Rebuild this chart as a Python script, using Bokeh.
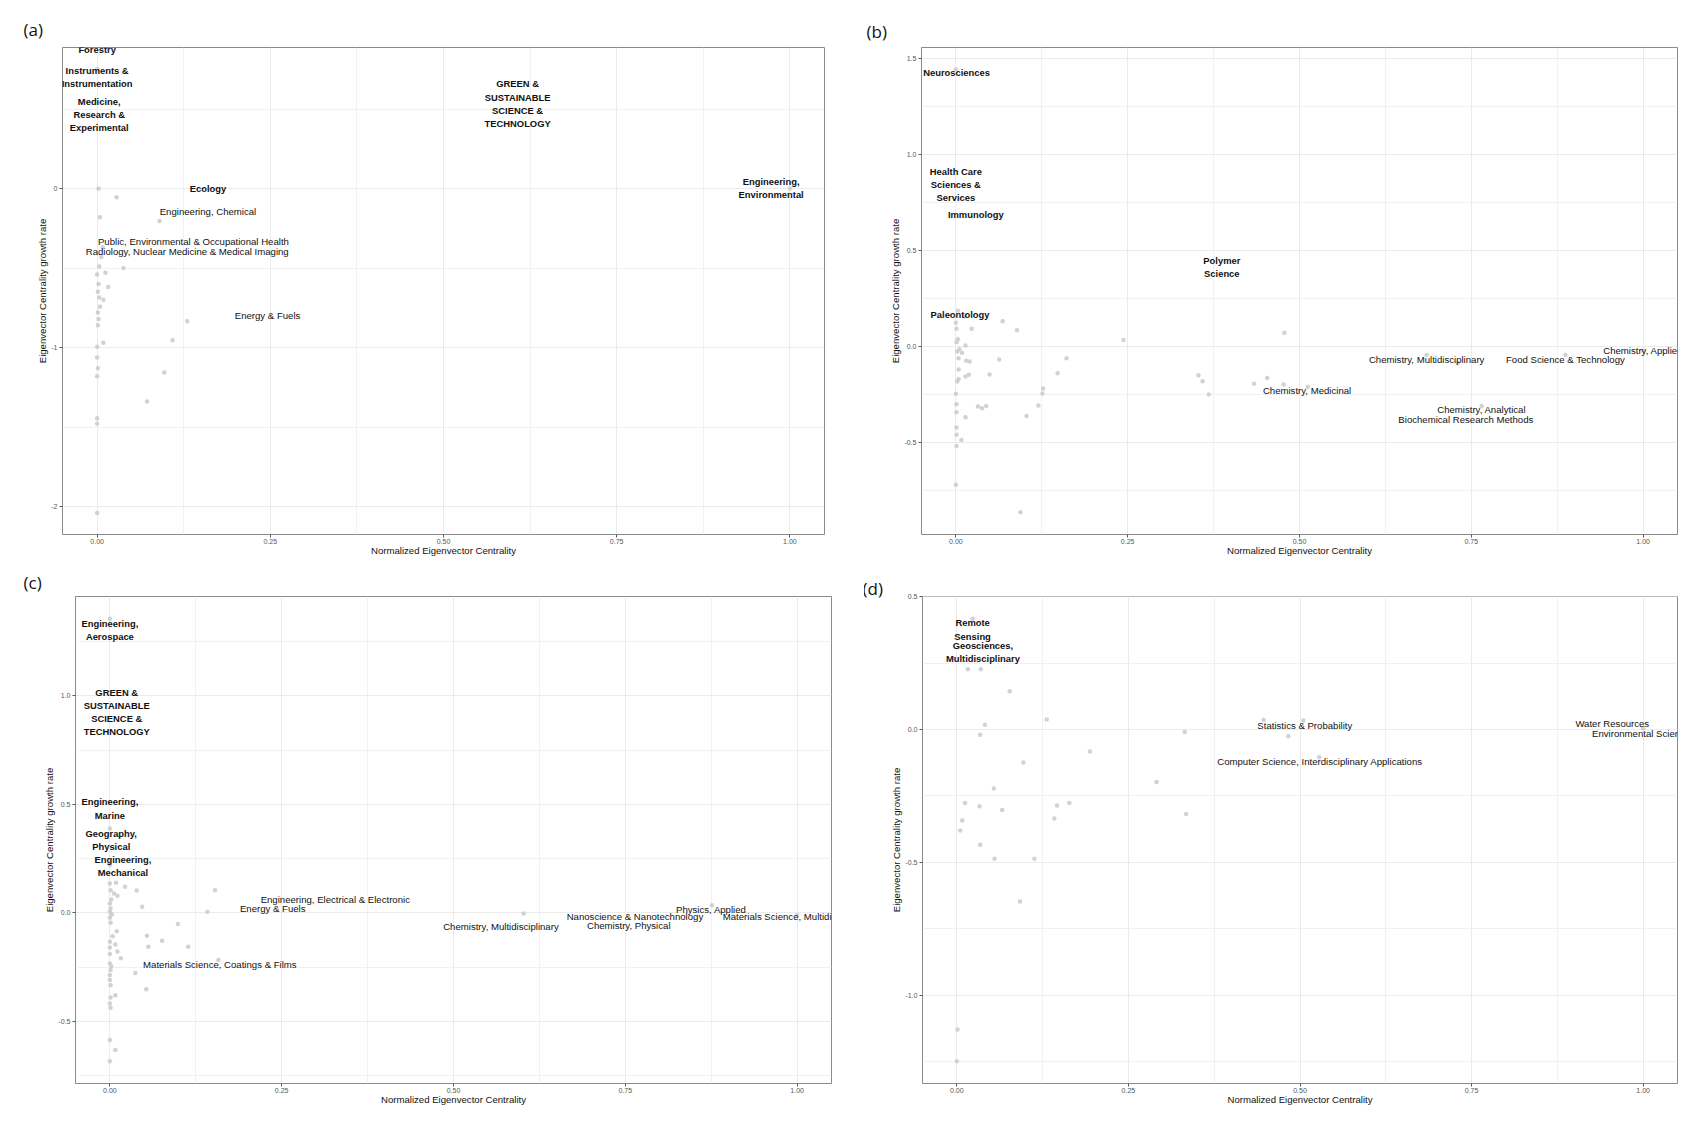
from bokeh.plotting import figure
from bokeh.layouts import column, row
from bokeh.models import Range1d, FixedTicker, PrintfTickFormatter, ColumnDataSource
from bokeh.embed import file_html
from bokeh.resources import INLINE
from bokeh.core.properties import value

FONT = "Liberation Sans"
X_TICKS = [0.0, 0.25, 0.5, 0.75, 1.0]
X_MINOR = [0.125, 0.375, 0.625, 0.875]
X_TITLE = "Normalized Eigenvector Centrality"
Y_TITLE = "Eigenvector Centrality growth rate"

# ---------------- panel (a) ----------------
a_x = [0.000, 0.002, 0.028, 0.004, 0.090, 0.008, 0.006, 0.003, 0.038, 0.012, 0.000, 0.016, 0.002,
       0.001, 0.003, 0.009, 0.004, 0.001, 0.002, 0.001, 0.130, 0.109, 0.009, 0.000, 0.000, 0.001,
       0.000, 0.097, 0.072, 0.000, 0.000, 0.000, 1.000]
a_y = [0.750, 0.000, -0.055, -0.180, -0.205, -0.370, -0.430, -0.490, -0.500, -0.530, -0.540, -0.620, -0.600,
       -0.650, -0.686, -0.700, -0.744, -0.780, -0.820, -0.860, -0.835, -0.954, -0.970, -0.995, -1.063, -1.130,
       -1.180, -1.157, -1.340, -1.445, -1.480, -2.040, 0.000]
a_lab = ["Forestry", "Instruments &\nInstrumentation", "Medicine,\nResearch &\nExperimental", "Ecology",
         "Engineering, Chemical", "Public, Environmental & Occupational Health",
         "Radiology, Nuclear Medicine & Medical Imaging", "Energy & Fuels",
         "GREEN &\nSUSTAINABLE\nSCIENCE &\nTECHNOLOGY", "Engineering,\nEnvironmental"]
a_lab_x = [0.000, 0.000, 0.003, 0.160, 0.160, 0.139, 0.130, 0.246, 0.607, 0.973]
a_lab_y = [0.875, 0.703, 0.465, 0.002, -0.142, -0.335, -0.396, -0.799, 0.533, 0.003]
a_bold = [1, 1, 1, 1, 0, 0, 0, 0, 1, 1]
a_yticks = [-2.0, -1.0, 0.0]
a_yminor = [-1.5, -0.5, 0.5]

# ---------------- panel (b) ----------------
b_x = [0.003, 0.013, 0.000, 0.001, 0.023, 0.068, 0.089, 0.003, 0.001, 0.014, 0.005, 0.002, 0.009, 0.004,
       0.015, 0.020, 0.063, 0.161, 0.244, 0.004, 0.148, 0.049, 0.014, 0.019, 0.004, 0.002, 0.127, 0.126,
       0.000, 0.001, 0.032, 0.038, 0.044, 0.120, 0.001, 0.014, 0.103, 0.001, 0.001, 0.008, 0.001, 0.000,
       0.094, 0.353, 0.359, 0.368, 0.434, 0.453, 0.477, 0.478, 0.512, 0.685, 0.730, 0.887, 0.765, 1.000,
       0.000]
b_y = [0.187, 0.156, 0.124, 0.093, 0.093, 0.133, 0.086, 0.039, 0.023, 0.006, -0.013, -0.025, -0.032, -0.060,
       -0.074, -0.077, -0.067, -0.060, 0.034, -0.119, -0.138, -0.145, -0.156, -0.147, -0.168, -0.182, -0.218,
       -0.244, -0.246, -0.300, -0.312, -0.321, -0.309, -0.307, -0.342, -0.368, -0.361, -0.422, -0.459, -0.487,
       -0.518, -0.720, -0.863, -0.149, -0.180, -0.250, -0.194, -0.163, -0.197, 0.072, -0.210, -0.044, -0.085,
       -0.044, -0.309, -0.020, 1.446]
b_lab = ["Neurosciences", "Health Care\nSciences &\nServices", "Immunology", "Polymer\nScience", "Paleontology",
         "Chemistry, Multidisciplinary", "Food Science & Technology", "Chemistry, Applied",
         "Chemistry, Medicinal", "Chemistry, Analytical", "Biochemical Research Methods"]
b_lab_x = [0.001, 0.000, 0.029, 0.387, 0.006, 0.685, 0.887, 1.000, 0.511, 0.765, 0.742]
b_lab_y = [1.428, 0.844, 0.687, 0.416, 0.170, -0.067, -0.067, -0.022, -0.231, -0.326, -0.379]
b_bold = [1, 1, 1, 1, 1, 0, 0, 0, 0, 0, 0]
b_yticks = [-0.5, 0.0, 0.5, 1.0, 1.5]
b_yminor = [-0.75, -0.25, 0.25, 0.75, 1.25]

# ---------------- panel (c) ----------------
c_x = [0.000, 0.000, 0.009, 0.022, 0.039, 0.153, 0.001, 0.006, 0.011, 0.002, 0.000, 0.047, 0.001, 0.000,
       0.003, 0.142, 0.000, 0.001, 0.099, 0.010, 0.004, 0.054, 0.076, 0.000, 0.008, 0.114, 0.056, 0.000,
       0.011, 0.000, 0.016, 0.000, 0.002, 0.001, 0.037, 0.000, 0.000, 0.001, 0.053, 0.008, 0.001, 0.000,
       0.001, 0.000, 0.008, 0.000, 0.602, 0.876, 0.158, 0.000, 0.000, 1.000]
c_y = [0.388, 0.135, 0.138, 0.120, 0.103, 0.104, 0.104, 0.089, 0.078, 0.061, 0.043, 0.028, 0.020, 0.005,
       -0.008, 0.005, -0.023, -0.046, -0.052, -0.085, -0.108, -0.106, -0.129, -0.134, -0.146, -0.157, -0.157,
       -0.160, -0.178, -0.190, -0.210, -0.234, -0.246, -0.264, -0.278, -0.287, -0.310, -0.334, -0.352, -0.380,
       -0.390, -0.418, -0.438, -0.587, -0.633, -0.685, -0.003, 0.035, -0.218, 1.356, 0.220, -0.010]
c_lab = ["Engineering,\nAerospace", "GREEN &\nSUSTAINABLE\nSCIENCE &\nTECHNOLOGY", "Engineering,\nMarine",
         "Geography,\nPhysical", "Engineering,\nMechanical", "Engineering, Electrical & Electronic",
         "Energy & Fuels", "Materials Science, Coatings & Films", "Chemistry, Multidisciplinary",
         "Nanoscience & Nanotechnology", "Chemistry, Physical", "Physics, Applied",
         "Materials Science, Multidisciplinary"]
c_lab_x = [0.000, 0.010, 0.000, 0.002, 0.019, 0.328, 0.237, 0.160, 0.569, 0.764, 0.755, 0.875, 1.000]
c_lab_y = [1.302, 0.926, 0.481, 0.336, 0.214, 0.061, 0.020, -0.238, -0.063, -0.016, -0.057, 0.017, -0.018]
c_bold = [1, 1, 1, 1, 1, 0, 0, 0, 0, 0, 0, 0, 0]
c_yticks = [-0.5, 0.0, 0.5, 1.0]
c_yminor = [-0.75, -0.25, 0.25, 0.75, 1.25]

# ---------------- panel (d) ----------------
d_x = [0.023, 0.016, 0.035, 0.077, 0.131, 0.041, 0.034, 0.332, 0.447, 0.483, 0.194, 0.097, 0.291, 0.054,
       0.012, 0.033, 0.066, 0.164, 0.146, 0.334, 0.008, 0.142, 0.005, 0.034, 0.055, 0.113, 0.092, 0.001,
       0.000, 0.505, 0.528, 1.000]
d_y = [0.417, 0.227, 0.227, 0.144, 0.038, 0.018, -0.020, -0.009, 0.036, -0.025, -0.083, -0.124, -0.198,
       -0.222, -0.277, -0.289, -0.303, -0.277, -0.286, -0.318, -0.343, -0.335, -0.380, -0.434, -0.487, -0.487,
       -0.648, -1.130, -1.249, 0.034, -0.104, 0.005]
d_lab = ["Remote\nSensing", "Geosciences,\nMultidisciplinary", "Statistics & Probability",
         "Computer Science, Interdisciplinary Applications", "Water Resources", "Environmental Science"]
d_lab_x = [0.023, 0.038, 0.507, 0.529, 0.955, 0.997]
d_lab_y = [0.377, 0.292, 0.014, -0.121, 0.021, -0.014]
d_bold = [1, 1, 0, 0, 0, 0]
d_yticks = [-1.0, -0.5, 0.0, 0.5]
d_yminor = [-1.25, -0.75, -0.25, 0.25]


def panel(tag, xs, ys, labs, lx, ly, bold, yrange, yticks, yminor, yfmt,
          borders, fw, fh, tag_offset, tag_standoff):
    bl, br, bt, bb = borders
    p = figure(frame_width=fw, frame_height=fh,
               x_range=Range1d(-0.05, 1.05), y_range=Range1d(*yrange),
               output_backend="svg", toolbar_location=None,
               min_border_left=bl, min_border_right=br, min_border_top=bt, min_border_bottom=bb)
    p.background_fill_color = "white"
    p.border_fill_color = "white"
    p.outline_line_color = "#8a8a8a"
    p.outline_line_width = 1

    p.xaxis.ticker = FixedTicker(ticks=X_TICKS, minor_ticks=X_MINOR)
    p.yaxis.ticker = FixedTicker(ticks=yticks, minor_ticks=yminor)
    p.xaxis.formatter = PrintfTickFormatter(format="%.2f")
    p.yaxis.formatter = PrintfTickFormatter(format=yfmt)
    for ax in (p.xaxis, p.yaxis):
        ax.axis_line_color = None
        ax.major_tick_line_color = "#555555"
        ax.major_tick_out = 3
        ax.major_tick_in = 0
        ax.minor_tick_line_color = None
        ax.major_label_text_font = FONT
        ax.major_label_text_font_size = "7px"
        ax.major_label_text_color = "#555555"
        ax.axis_label_text_font = FONT
        ax.axis_label_text_font_size = "9.6px"
        ax.axis_label_text_font_style = "normal"
        ax.axis_label_text_color = "#111111"
    p.xaxis.major_label_standoff = 0
    p.xaxis.axis_label_standoff = -2
    p.yaxis.major_label_standoff = 1
    p.yaxis.axis_label_standoff = 0
    p.xaxis.axis_label = X_TITLE
    p.yaxis.axis_label = Y_TITLE

    for g in (p.xgrid, p.ygrid):
        g.grid_line_color = "#ebebeb"
        g.grid_line_width = 1
        g.minor_grid_line_color = "#f1f1f1"
        g.minor_grid_line_width = 1

    p.scatter(x=xs, y=ys, size=4.5, fill_color="#cdcdcd", line_color=None, fill_alpha=0.9)

    bsrc = ColumnDataSource(dict(x=[a for a, b in zip(lx, bold) if b],
                                 y=[a for a, b in zip(ly, bold) if b],
                                 t=[a for a, b in zip(labs, bold) if b]))
    nsrc = ColumnDataSource(dict(x=[a for a, b in zip(lx, bold) if not b],
                                 y=[a for a, b in zip(ly, bold) if not b],
                                 t=[a for a, b in zip(labs, bold) if not b]))
    p.text(x="x", y="y", text="t", source=nsrc, text_font=value(FONT), text_font_size="9.6px",
           text_align="center", text_baseline="middle", text_color="#111111", text_line_height=1.2)
    p.text(x="x", y="y", text="t", source=bsrc, text_font=value(FONT), text_font_size="9.4px",
           text_font_style="bold", text_align="center", text_baseline="middle", text_color="#111111",
           text_line_height=1.2)

    p.title.text = tag
    p.title.text_font = "Open Sans"
    p.title.text_font_size = "17px"
    p.title.text_font_style = "normal"
    p.title.text_color = "#111111"
    p.title.align = "left"
    p.title.offset = tag_offset
    p.title.standoff = tag_standoff
    return p


pa = panel("(a)", a_x, a_y, a_lab, a_lab_x, a_lab_y, a_bold, (-2.176, 0.887), a_yticks, a_yminor, "%d",
           (62, 40, 45, 31), 762, 487, -39, 13)
pb = panel("(b)", b_x, b_y, b_lab, b_lab_x, b_lab_y, b_bold, (-0.979, 1.559), b_yticks, b_yminor, "%.1f",
           (57, 8, 47, 29), 756, 487, -55, 10)
pc = panel("(c)", c_x, c_y, c_lab, c_lab_x, c_lab_y, c_bold, (-0.787, 1.458), c_yticks, c_yminor, "%.1f",
           (75, 33, 30, 33), 756, 487, -52, 5)
pd = panel("(d)", d_x, d_y, d_lab, d_lab_x, d_lab_y, d_bold, (-1.333, 0.501), d_yticks, d_yminor, "%.1f",
           (58, 8, 33, 30), 755, 487, -60, -6)

layout = column(row(pa, pb), row(pc, pd))
open("out.html", "w").write(file_html(layout, INLINE))
